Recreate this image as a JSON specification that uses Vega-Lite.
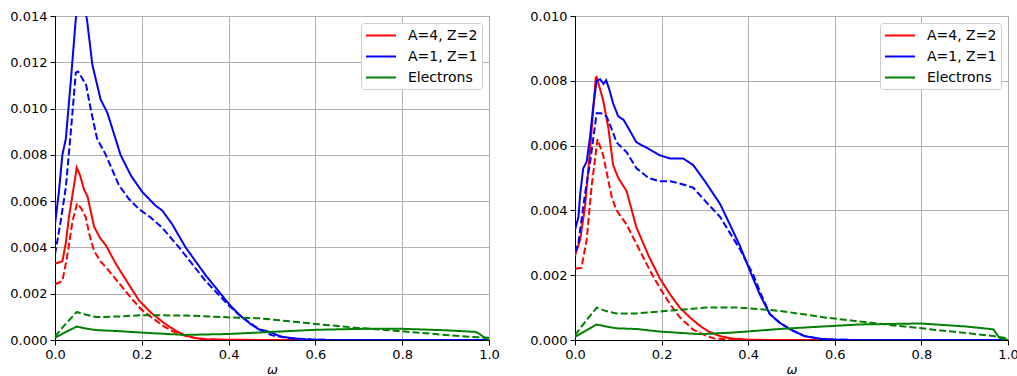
{
  "$schema": "https://vega.github.io/schema/vega-lite/v6.json",
  "background": "white",
  "padding": {"left": 9, "top": 9, "right": 0, "bottom": 0},
  "config": {
    "font": "DejaVu Sans",
    "view": {"stroke": "black", "strokeWidth": 1},
    "concat": {"spacing": 29},
    "axis": {
      "domainColor": "black",
      "domainWidth": 1,
      "tickColor": "black",
      "tickSize": 5,
      "labelColor": "black",
      "labelFont": "DejaVu Sans",
      "labelFontSize": 13,
      "labelPadding": 3,
      "labelFlush": false,
      "gridColor": "#b0b0b0",
      "gridWidth": 1,
      "titleFont": "DejaVu Sans",
      "titleFontSize": 13,
      "titleFontWeight": "normal",
      "titleColor": "black"
    },
    "legend": {
      "fillColor": "white",
      "strokeColor": "#cccccc",
      "cornerRadius": 3,
      "padding": 4,
      "offset": 7,
      "labelFont": "DejaVu Sans",
      "labelFontSize": 14,
      "labelColor": "black",
      "rowPadding": 5
    }
  },
  "datasets": {
    "left": [
      {"species": "A=4, Z=2", "case": "1", "w": 0, "f": 0.0033},
      {"species": "A=4, Z=2", "case": "1", "w": 0.017, "f": 0.0034},
      {"species": "A=4, Z=2", "case": "1", "w": 0.025, "f": 0.0042},
      {"species": "A=4, Z=2", "case": "1", "w": 0.032, "f": 0.0053},
      {"species": "A=4, Z=2", "case": "1", "w": 0.044, "f": 0.0067},
      {"species": "A=4, Z=2", "case": "1", "w": 0.05, "f": 0.00745},
      {"species": "A=4, Z=2", "case": "1", "w": 0.058, "f": 0.0071},
      {"species": "A=4, Z=2", "case": "1", "w": 0.067, "f": 0.0065},
      {"species": "A=4, Z=2", "case": "1", "w": 0.075, "f": 0.0062},
      {"species": "A=4, Z=2", "case": "1", "w": 0.083, "f": 0.0055},
      {"species": "A=4, Z=2", "case": "1", "w": 0.09, "f": 0.0049},
      {"species": "A=4, Z=2", "case": "1", "w": 0.104, "f": 0.0044},
      {"species": "A=4, Z=2", "case": "1", "w": 0.117, "f": 0.0041},
      {"species": "A=4, Z=2", "case": "1", "w": 0.14, "f": 0.0033},
      {"species": "A=4, Z=2", "case": "1", "w": 0.17, "f": 0.0024},
      {"species": "A=4, Z=2", "case": "1", "w": 0.194, "f": 0.0017},
      {"species": "A=4, Z=2", "case": "1", "w": 0.22, "f": 0.0012},
      {"species": "A=4, Z=2", "case": "1", "w": 0.255, "f": 0.00068},
      {"species": "A=4, Z=2", "case": "1", "w": 0.28, "f": 0.00038},
      {"species": "A=4, Z=2", "case": "1", "w": 0.3, "f": 0.0002},
      {"species": "A=4, Z=2", "case": "1", "w": 0.32, "f": 0.0001},
      {"species": "A=4, Z=2", "case": "1", "w": 0.34, "f": 0.00003},
      {"species": "A=4, Z=2", "case": "1", "w": 0.4, "f": 0.00001},
      {"species": "A=4, Z=2", "case": "1", "w": 0.5, "f": 0},
      {"species": "A=4, Z=2", "case": "1", "w": 1.0, "f": 0},

      {"species": "A=4, Z=2", "case": "2", "w": 0, "f": 0.0024},
      {"species": "A=4, Z=2", "case": "2", "w": 0.017, "f": 0.00255},
      {"species": "A=4, Z=2", "case": "2", "w": 0.028, "f": 0.0036},
      {"species": "A=4, Z=2", "case": "2", "w": 0.04, "f": 0.0051},
      {"species": "A=4, Z=2", "case": "2", "w": 0.051, "f": 0.0059},
      {"species": "A=4, Z=2", "case": "2", "w": 0.06, "f": 0.0057},
      {"species": "A=4, Z=2", "case": "2", "w": 0.071, "f": 0.0053},
      {"species": "A=4, Z=2", "case": "2", "w": 0.08, "f": 0.0045},
      {"species": "A=4, Z=2", "case": "2", "w": 0.09, "f": 0.00385},
      {"species": "A=4, Z=2", "case": "2", "w": 0.105, "f": 0.0034},
      {"species": "A=4, Z=2", "case": "2", "w": 0.124, "f": 0.003},
      {"species": "A=4, Z=2", "case": "2", "w": 0.15, "f": 0.0024},
      {"species": "A=4, Z=2", "case": "2", "w": 0.178, "f": 0.00176},
      {"species": "A=4, Z=2", "case": "2", "w": 0.2, "f": 0.0013},
      {"species": "A=4, Z=2", "case": "2", "w": 0.224, "f": 0.00096},
      {"species": "A=4, Z=2", "case": "2", "w": 0.25, "f": 0.0006},
      {"species": "A=4, Z=2", "case": "2", "w": 0.27, "f": 0.00039},
      {"species": "A=4, Z=2", "case": "2", "w": 0.3, "f": 0.00018},
      {"species": "A=4, Z=2", "case": "2", "w": 0.32, "f": 0.0001},
      {"species": "A=4, Z=2", "case": "2", "w": 0.35, "f": 0.00003},
      {"species": "A=4, Z=2", "case": "2", "w": 0.4, "f": 0},
      {"species": "A=4, Z=2", "case": "2", "w": 1.0, "f": 0},

      {"species": "A=1, Z=1", "case": "1", "w": 0, "f": 0.005},
      {"species": "A=1, Z=1", "case": "1", "w": 0.009, "f": 0.0064},
      {"species": "A=1, Z=1", "case": "1", "w": 0.017, "f": 0.008},
      {"species": "A=1, Z=1", "case": "1", "w": 0.025, "f": 0.0087},
      {"species": "A=1, Z=1", "case": "1", "w": 0.036, "f": 0.0111},
      {"species": "A=1, Z=1", "case": "1", "w": 0.048, "f": 0.0139},
      {"species": "A=1, Z=1", "case": "1", "w": 0.056, "f": 0.0147},
      {"species": "A=1, Z=1", "case": "1", "w": 0.066, "f": 0.0146},
      {"species": "A=1, Z=1", "case": "1", "w": 0.074, "f": 0.0138},
      {"species": "A=1, Z=1", "case": "1", "w": 0.086, "f": 0.0119},
      {"species": "A=1, Z=1", "case": "1", "w": 0.105, "f": 0.0104},
      {"species": "A=1, Z=1", "case": "1", "w": 0.121, "f": 0.0098},
      {"species": "A=1, Z=1", "case": "1", "w": 0.151, "f": 0.008},
      {"species": "A=1, Z=1", "case": "1", "w": 0.175, "f": 0.0071},
      {"species": "A=1, Z=1", "case": "1", "w": 0.201, "f": 0.0064},
      {"species": "A=1, Z=1", "case": "1", "w": 0.232, "f": 0.0058},
      {"species": "A=1, Z=1", "case": "1", "w": 0.247, "f": 0.0056},
      {"species": "A=1, Z=1", "case": "1", "w": 0.27, "f": 0.005},
      {"species": "A=1, Z=1", "case": "1", "w": 0.301, "f": 0.004},
      {"species": "A=1, Z=1", "case": "1", "w": 0.347, "f": 0.0028},
      {"species": "A=1, Z=1", "case": "1", "w": 0.401, "f": 0.00155},
      {"species": "A=1, Z=1", "case": "1", "w": 0.424, "f": 0.0011},
      {"species": "A=1, Z=1", "case": "1", "w": 0.45, "f": 0.0007},
      {"species": "A=1, Z=1", "case": "1", "w": 0.47, "f": 0.00046},
      {"species": "A=1, Z=1", "case": "1", "w": 0.493, "f": 0.00036},
      {"species": "A=1, Z=1", "case": "1", "w": 0.52, "f": 0.00015},
      {"species": "A=1, Z=1", "case": "1", "w": 0.539, "f": 0.0001},
      {"species": "A=1, Z=1", "case": "1", "w": 0.57, "f": 0.00003},
      {"species": "A=1, Z=1", "case": "1", "w": 0.6, "f": 0.00001},
      {"species": "A=1, Z=1", "case": "1", "w": 0.65, "f": 0},
      {"species": "A=1, Z=1", "case": "1", "w": 1.0, "f": 0},

      {"species": "A=1, Z=1", "case": "2", "w": 0, "f": 0.0037},
      {"species": "A=1, Z=1", "case": "2", "w": 0.012, "f": 0.005},
      {"species": "A=1, Z=1", "case": "2", "w": 0.025, "f": 0.0066},
      {"species": "A=1, Z=1", "case": "2", "w": 0.036, "f": 0.0089},
      {"species": "A=1, Z=1", "case": "2", "w": 0.048, "f": 0.01155},
      {"species": "A=1, Z=1", "case": "2", "w": 0.053, "f": 0.0116},
      {"species": "A=1, Z=1", "case": "2", "w": 0.063, "f": 0.0113},
      {"species": "A=1, Z=1", "case": "2", "w": 0.072, "f": 0.011},
      {"species": "A=1, Z=1", "case": "2", "w": 0.082, "f": 0.01},
      {"species": "A=1, Z=1", "case": "2", "w": 0.097, "f": 0.0087},
      {"species": "A=1, Z=1", "case": "2", "w": 0.117, "f": 0.008},
      {"species": "A=1, Z=1", "case": "2", "w": 0.147, "f": 0.0067},
      {"species": "A=1, Z=1", "case": "2", "w": 0.17, "f": 0.0061},
      {"species": "A=1, Z=1", "case": "2", "w": 0.194, "f": 0.00565},
      {"species": "A=1, Z=1", "case": "2", "w": 0.22, "f": 0.0053},
      {"species": "A=1, Z=1", "case": "2", "w": 0.247, "f": 0.00485},
      {"species": "A=1, Z=1", "case": "2", "w": 0.286, "f": 0.004},
      {"species": "A=1, Z=1", "case": "2", "w": 0.347, "f": 0.00255},
      {"species": "A=1, Z=1", "case": "2", "w": 0.4, "f": 0.0015},
      {"species": "A=1, Z=1", "case": "2", "w": 0.43, "f": 0.001},
      {"species": "A=1, Z=1", "case": "2", "w": 0.47, "f": 0.00046},
      {"species": "A=1, Z=1", "case": "2", "w": 0.5, "f": 0.0002},
      {"species": "A=1, Z=1", "case": "2", "w": 0.54, "f": 0.00008},
      {"species": "A=1, Z=1", "case": "2", "w": 0.6, "f": 0.00001},
      {"species": "A=1, Z=1", "case": "2", "w": 0.65, "f": 0},
      {"species": "A=1, Z=1", "case": "2", "w": 1.0, "f": 0},

      {"species": "Electrons", "case": "1", "w": 0, "f": 0.0001},
      {"species": "Electrons", "case": "1", "w": 0.02, "f": 0.0003},
      {"species": "Electrons", "case": "1", "w": 0.05, "f": 0.00058},
      {"species": "Electrons", "case": "1", "w": 0.07, "f": 0.0005},
      {"species": "Electrons", "case": "1", "w": 0.094, "f": 0.00043},
      {"species": "Electrons", "case": "1", "w": 0.15, "f": 0.00038},
      {"species": "Electrons", "case": "1", "w": 0.2, "f": 0.00032},
      {"species": "Electrons", "case": "1", "w": 0.3, "f": 0.00022},
      {"species": "Electrons", "case": "1", "w": 0.4, "f": 0.00026},
      {"species": "Electrons", "case": "1", "w": 0.5, "f": 0.00035},
      {"species": "Electrons", "case": "1", "w": 0.6, "f": 0.00044},
      {"species": "Electrons", "case": "1", "w": 0.7, "f": 0.00048},
      {"species": "Electrons", "case": "1", "w": 0.79, "f": 0.00049},
      {"species": "Electrons", "case": "1", "w": 0.9, "f": 0.00042},
      {"species": "Electrons", "case": "1", "w": 0.969, "f": 0.00035},
      {"species": "Electrons", "case": "1", "w": 0.975, "f": 0.0003},
      {"species": "Electrons", "case": "1", "w": 0.99, "f": 0.0001},
      {"species": "Electrons", "case": "1", "w": 1.0, "f": 0},

      {"species": "Electrons", "case": "2", "w": 0, "f": 0.00015},
      {"species": "Electrons", "case": "2", "w": 0.02, "f": 0.0006},
      {"species": "Electrons", "case": "2", "w": 0.05, "f": 0.00121},
      {"species": "Electrons", "case": "2", "w": 0.07, "f": 0.0011},
      {"species": "Electrons", "case": "2", "w": 0.094, "f": 0.00099},
      {"species": "Electrons", "case": "2", "w": 0.15, "f": 0.00102},
      {"species": "Electrons", "case": "2", "w": 0.2, "f": 0.00107},
      {"species": "Electrons", "case": "2", "w": 0.3, "f": 0.00106},
      {"species": "Electrons", "case": "2", "w": 0.424, "f": 0.00096},
      {"species": "Electrons", "case": "2", "w": 0.47, "f": 0.00094},
      {"species": "Electrons", "case": "2", "w": 0.608, "f": 0.00068},
      {"species": "Electrons", "case": "2", "w": 0.7, "f": 0.00052},
      {"species": "Electrons", "case": "2", "w": 0.79, "f": 0.00039},
      {"species": "Electrons", "case": "2", "w": 0.9, "f": 0.00022},
      {"species": "Electrons", "case": "2", "w": 0.96, "f": 0.00013},
      {"species": "Electrons", "case": "2", "w": 1.0, "f": 0.0001}
    ],
    "right": [
      {"species": "A=4, Z=2", "case": "1", "w": 0, "f": 0.0026},
      {"species": "A=4, Z=2", "case": "1", "w": 0.012, "f": 0.0031},
      {"species": "A=4, Z=2", "case": "1", "w": 0.023, "f": 0.0041},
      {"species": "A=4, Z=2", "case": "1", "w": 0.035, "f": 0.0059},
      {"species": "A=4, Z=2", "case": "1", "w": 0.048, "f": 0.0081},
      {"species": "A=4, Z=2", "case": "1", "w": 0.05, "f": 0.00812},
      {"species": "A=4, Z=2", "case": "1", "w": 0.065, "f": 0.0074},
      {"species": "A=4, Z=2", "case": "1", "w": 0.077, "f": 0.00655},
      {"species": "A=4, Z=2", "case": "1", "w": 0.088, "f": 0.0054},
      {"species": "A=4, Z=2", "case": "1", "w": 0.1, "f": 0.005},
      {"species": "A=4, Z=2", "case": "1", "w": 0.119, "f": 0.0046},
      {"species": "A=4, Z=2", "case": "1", "w": 0.142, "f": 0.00347},
      {"species": "A=4, Z=2", "case": "1", "w": 0.17, "f": 0.0026},
      {"species": "A=4, Z=2", "case": "1", "w": 0.196, "f": 0.0019},
      {"species": "A=4, Z=2", "case": "1", "w": 0.22, "f": 0.0014},
      {"species": "A=4, Z=2", "case": "1", "w": 0.242, "f": 0.001},
      {"species": "A=4, Z=2", "case": "1", "w": 0.265, "f": 0.0007},
      {"species": "A=4, Z=2", "case": "1", "w": 0.289, "f": 0.00043},
      {"species": "A=4, Z=2", "case": "1", "w": 0.31, "f": 0.00025},
      {"species": "A=4, Z=2", "case": "1", "w": 0.335, "f": 0.00012},
      {"species": "A=4, Z=2", "case": "1", "w": 0.36, "f": 0.00005},
      {"species": "A=4, Z=2", "case": "1", "w": 0.4, "f": 0.00001},
      {"species": "A=4, Z=2", "case": "1", "w": 0.45, "f": 0},
      {"species": "A=4, Z=2", "case": "1", "w": 1.0, "f": 0},

      {"species": "A=4, Z=2", "case": "2", "w": 0, "f": 0.0022},
      {"species": "A=4, Z=2", "case": "2", "w": 0.015, "f": 0.00223},
      {"species": "A=4, Z=2", "case": "2", "w": 0.027, "f": 0.0031},
      {"species": "A=4, Z=2", "case": "2", "w": 0.038, "f": 0.0047},
      {"species": "A=4, Z=2", "case": "2", "w": 0.052, "f": 0.0062},
      {"species": "A=4, Z=2", "case": "2", "w": 0.065, "f": 0.0057},
      {"species": "A=4, Z=2", "case": "2", "w": 0.085, "f": 0.0044},
      {"species": "A=4, Z=2", "case": "2", "w": 0.096, "f": 0.004},
      {"species": "A=4, Z=2", "case": "2", "w": 0.119, "f": 0.00357},
      {"species": "A=4, Z=2", "case": "2", "w": 0.15, "f": 0.00275},
      {"species": "A=4, Z=2", "case": "2", "w": 0.175, "f": 0.0021},
      {"species": "A=4, Z=2", "case": "2", "w": 0.196, "f": 0.0016},
      {"species": "A=4, Z=2", "case": "2", "w": 0.22, "f": 0.0011},
      {"species": "A=4, Z=2", "case": "2", "w": 0.242, "f": 0.0007},
      {"species": "A=4, Z=2", "case": "2", "w": 0.273, "f": 0.00032},
      {"species": "A=4, Z=2", "case": "2", "w": 0.3, "f": 0.00015},
      {"species": "A=4, Z=2", "case": "2", "w": 0.32, "f": 0.00005},
      {"species": "A=4, Z=2", "case": "2", "w": 0.36, "f": 0.00001},
      {"species": "A=4, Z=2", "case": "2", "w": 0.4, "f": 0},
      {"species": "A=4, Z=2", "case": "2", "w": 1.0, "f": 0},

      {"species": "A=1, Z=1", "case": "1", "w": 0, "f": 0.0034},
      {"species": "A=1, Z=1", "case": "1", "w": 0.008, "f": 0.0038},
      {"species": "A=1, Z=1", "case": "1", "w": 0.012, "f": 0.0045},
      {"species": "A=1, Z=1", "case": "1", "w": 0.019, "f": 0.0053},
      {"species": "A=1, Z=1", "case": "1", "w": 0.027, "f": 0.0055},
      {"species": "A=1, Z=1", "case": "1", "w": 0.035, "f": 0.0063},
      {"species": "A=1, Z=1", "case": "1", "w": 0.042, "f": 0.0072},
      {"species": "A=1, Z=1", "case": "1", "w": 0.05, "f": 0.008},
      {"species": "A=1, Z=1", "case": "1", "w": 0.058, "f": 0.00805},
      {"species": "A=1, Z=1", "case": "1", "w": 0.066, "f": 0.0079},
      {"species": "A=1, Z=1", "case": "1", "w": 0.072, "f": 0.00802},
      {"species": "A=1, Z=1", "case": "1", "w": 0.08, "f": 0.0077},
      {"species": "A=1, Z=1", "case": "1", "w": 0.088, "f": 0.0073},
      {"species": "A=1, Z=1", "case": "1", "w": 0.1, "f": 0.0069},
      {"species": "A=1, Z=1", "case": "1", "w": 0.112, "f": 0.0068},
      {"species": "A=1, Z=1", "case": "1", "w": 0.125, "f": 0.0065},
      {"species": "A=1, Z=1", "case": "1", "w": 0.142, "f": 0.0061},
      {"species": "A=1, Z=1", "case": "1", "w": 0.17, "f": 0.0059},
      {"species": "A=1, Z=1", "case": "1", "w": 0.196, "f": 0.0057},
      {"species": "A=1, Z=1", "case": "1", "w": 0.22, "f": 0.0056},
      {"species": "A=1, Z=1", "case": "1", "w": 0.25, "f": 0.0056},
      {"species": "A=1, Z=1", "case": "1", "w": 0.273, "f": 0.0054},
      {"species": "A=1, Z=1", "case": "1", "w": 0.3, "f": 0.0049},
      {"species": "A=1, Z=1", "case": "1", "w": 0.335, "f": 0.0042},
      {"species": "A=1, Z=1", "case": "1", "w": 0.36, "f": 0.0035},
      {"species": "A=1, Z=1", "case": "1", "w": 0.381, "f": 0.0029},
      {"species": "A=1, Z=1", "case": "1", "w": 0.405, "f": 0.0021},
      {"species": "A=1, Z=1", "case": "1", "w": 0.427, "f": 0.0014},
      {"species": "A=1, Z=1", "case": "1", "w": 0.45, "f": 0.0008},
      {"species": "A=1, Z=1", "case": "1", "w": 0.473, "f": 0.00053},
      {"species": "A=1, Z=1", "case": "1", "w": 0.497, "f": 0.00033},
      {"species": "A=1, Z=1", "case": "1", "w": 0.53, "f": 0.00012},
      {"species": "A=1, Z=1", "case": "1", "w": 0.566, "f": 0.00004},
      {"species": "A=1, Z=1", "case": "1", "w": 0.6, "f": 0.00001},
      {"species": "A=1, Z=1", "case": "1", "w": 0.65, "f": 0},
      {"species": "A=1, Z=1", "case": "1", "w": 1.0, "f": 0},

      {"species": "A=1, Z=1", "case": "2", "w": 0, "f": 0.0027},
      {"species": "A=1, Z=1", "case": "2", "w": 0.008, "f": 0.003},
      {"species": "A=1, Z=1", "case": "2", "w": 0.012, "f": 0.0034},
      {"species": "A=1, Z=1", "case": "2", "w": 0.023, "f": 0.0045},
      {"species": "A=1, Z=1", "case": "2", "w": 0.035, "f": 0.0055},
      {"species": "A=1, Z=1", "case": "2", "w": 0.043, "f": 0.0063},
      {"species": "A=1, Z=1", "case": "2", "w": 0.05, "f": 0.007},
      {"species": "A=1, Z=1", "case": "2", "w": 0.06, "f": 0.007},
      {"species": "A=1, Z=1", "case": "2", "w": 0.073, "f": 0.0069},
      {"species": "A=1, Z=1", "case": "2", "w": 0.085, "f": 0.0065},
      {"species": "A=1, Z=1", "case": "2", "w": 0.096, "f": 0.0061},
      {"species": "A=1, Z=1", "case": "2", "w": 0.119, "f": 0.0058},
      {"species": "A=1, Z=1", "case": "2", "w": 0.142, "f": 0.0053},
      {"species": "A=1, Z=1", "case": "2", "w": 0.17, "f": 0.005},
      {"species": "A=1, Z=1", "case": "2", "w": 0.196, "f": 0.0049},
      {"species": "A=1, Z=1", "case": "2", "w": 0.22, "f": 0.0049},
      {"species": "A=1, Z=1", "case": "2", "w": 0.25, "f": 0.0048},
      {"species": "A=1, Z=1", "case": "2", "w": 0.273, "f": 0.0047},
      {"species": "A=1, Z=1", "case": "2", "w": 0.3, "f": 0.0043},
      {"species": "A=1, Z=1", "case": "2", "w": 0.335, "f": 0.0038},
      {"species": "A=1, Z=1", "case": "2", "w": 0.381, "f": 0.0028},
      {"species": "A=1, Z=1", "case": "2", "w": 0.412, "f": 0.002},
      {"species": "A=1, Z=1", "case": "2", "w": 0.43, "f": 0.0014},
      {"species": "A=1, Z=1", "case": "2", "w": 0.45, "f": 0.0008},
      {"species": "A=1, Z=1", "case": "2", "w": 0.473, "f": 0.00053},
      {"species": "A=1, Z=1", "case": "2", "w": 0.497, "f": 0.00033},
      {"species": "A=1, Z=1", "case": "2", "w": 0.53, "f": 0.00012},
      {"species": "A=1, Z=1", "case": "2", "w": 0.566, "f": 0.00004},
      {"species": "A=1, Z=1", "case": "2", "w": 0.6, "f": 0.00001},
      {"species": "A=1, Z=1", "case": "2", "w": 0.65, "f": 0},
      {"species": "A=1, Z=1", "case": "2", "w": 1.0, "f": 0},

      {"species": "Electrons", "case": "1", "w": 0, "f": 0.0001},
      {"species": "Electrons", "case": "1", "w": 0.02, "f": 0.00025},
      {"species": "Electrons", "case": "1", "w": 0.05, "f": 0.00048},
      {"species": "Electrons", "case": "1", "w": 0.07, "f": 0.00042},
      {"species": "Electrons", "case": "1", "w": 0.096, "f": 0.00036},
      {"species": "Electrons", "case": "1", "w": 0.142, "f": 0.00034},
      {"species": "Electrons", "case": "1", "w": 0.196, "f": 0.00026},
      {"species": "Electrons", "case": "1", "w": 0.289, "f": 0.00018},
      {"species": "Electrons", "case": "1", "w": 0.366, "f": 0.00023},
      {"species": "Electrons", "case": "1", "w": 0.473, "f": 0.00034},
      {"species": "Electrons", "case": "1", "w": 0.55, "f": 0.0004},
      {"species": "Electrons", "case": "1", "w": 0.658, "f": 0.00048},
      {"species": "Electrons", "case": "1", "w": 0.797, "f": 0.00051},
      {"species": "Electrons", "case": "1", "w": 0.9, "f": 0.00042},
      {"species": "Electrons", "case": "1", "w": 0.966, "f": 0.00033},
      {"species": "Electrons", "case": "1", "w": 0.98, "f": 0.00007},
      {"species": "Electrons", "case": "1", "w": 1.0, "f": 0},

      {"species": "Electrons", "case": "2", "w": 0, "f": 0.00015},
      {"species": "Electrons", "case": "2", "w": 0.02, "f": 0.0005},
      {"species": "Electrons", "case": "2", "w": 0.05, "f": 0.001},
      {"species": "Electrons", "case": "2", "w": 0.07, "f": 0.0009},
      {"species": "Electrons", "case": "2", "w": 0.096, "f": 0.00082},
      {"species": "Electrons", "case": "2", "w": 0.142, "f": 0.00082},
      {"species": "Electrons", "case": "2", "w": 0.196, "f": 0.00088},
      {"species": "Electrons", "case": "2", "w": 0.304, "f": 0.001},
      {"species": "Electrons", "case": "2", "w": 0.381, "f": 0.001},
      {"species": "Electrons", "case": "2", "w": 0.427, "f": 0.00095},
      {"species": "Electrons", "case": "2", "w": 0.473, "f": 0.0009},
      {"species": "Electrons", "case": "2", "w": 0.58, "f": 0.00069},
      {"species": "Electrons", "case": "2", "w": 0.75, "f": 0.00043},
      {"species": "Electrons", "case": "2", "w": 0.9, "f": 0.00022},
      {"species": "Electrons", "case": "2", "w": 0.966, "f": 0.00012},
      {"species": "Electrons", "case": "2", "w": 1.0, "f": 0.00005}
    ]
  },
  "hconcat": [
    {
      "data": {"name": "left"},
      "width": 434,
      "height": 324,
      "mark": {"type": "line", "strokeWidth": 2, "clip": true},
      "encoding": {
        "x": {
          "field": "w", "type": "quantitative",
          "scale": {"domain": [0, 1], "nice": false, "zero": false},
          "axis": {"values": [0, 0.2, 0.4, 0.6, 0.8, 1], "format": ".1f", "title": "ω", "titleFontStyle": "italic", "titlePadding": 2, "grid": true}
        },
        "y": {
          "field": "f", "type": "quantitative",
          "scale": {"domain": [0, 0.014], "nice": false},
          "axis": {"values": [0, 0.002, 0.004, 0.006, 0.008, 0.01, 0.012, 0.014], "format": ".3f", "title": null, "grid": true}
        },
        "color": {
          "field": "species", "type": "nominal",
          "scale": {"domain": ["A=4, Z=2", "A=1, Z=1", "Electrons"], "range": ["#ff0000", "#0000ff", "#008000"]},
          "legend": {"title": null, "orient": "top-right", "symbolType": "M-1,0L3,0", "symbolSize": 225, "symbolStrokeWidth": 2, "labelOffset": 26}
        },
        "strokeDash": {
          "field": "case", "type": "nominal",
          "scale": {"domain": ["1", "2"], "range": [[1, 0], [7, 3]]},
          "legend": null
        }
      }
    },
    {
      "data": {"name": "right"},
      "width": 433,
      "height": 324,
      "mark": {"type": "line", "strokeWidth": 2, "clip": true},
      "encoding": {
        "x": {
          "field": "w", "type": "quantitative",
          "scale": {"domain": [0, 1], "nice": false, "zero": false},
          "axis": {"values": [0, 0.2, 0.4, 0.6, 0.8, 1], "format": ".1f", "title": "ω", "titleFontStyle": "italic", "titlePadding": 2, "grid": true}
        },
        "y": {
          "field": "f", "type": "quantitative",
          "scale": {"domain": [0, 0.01], "nice": false},
          "axis": {"values": [0, 0.002, 0.004, 0.006, 0.008, 0.01], "format": ".3f", "title": null, "grid": true}
        },
        "color": {
          "field": "species", "type": "nominal",
          "scale": {"domain": ["A=4, Z=2", "A=1, Z=1", "Electrons"], "range": ["#ff0000", "#0000ff", "#008000"]},
          "legend": {"title": null, "orient": "top-right", "symbolType": "M-1,0L3,0", "symbolSize": 225, "symbolStrokeWidth": 2, "labelOffset": 26}
        },
        "strokeDash": {
          "field": "case", "type": "nominal",
          "scale": {"domain": ["1", "2"], "range": [[1, 0], [7, 3]]},
          "legend": null
        }
      }
    }
  ],
  "resolve": {
    "scale": {"color": "independent", "strokeDash": "independent", "y": "independent", "x": "independent"},
    "legend": {"color": "independent"}
  }
}
